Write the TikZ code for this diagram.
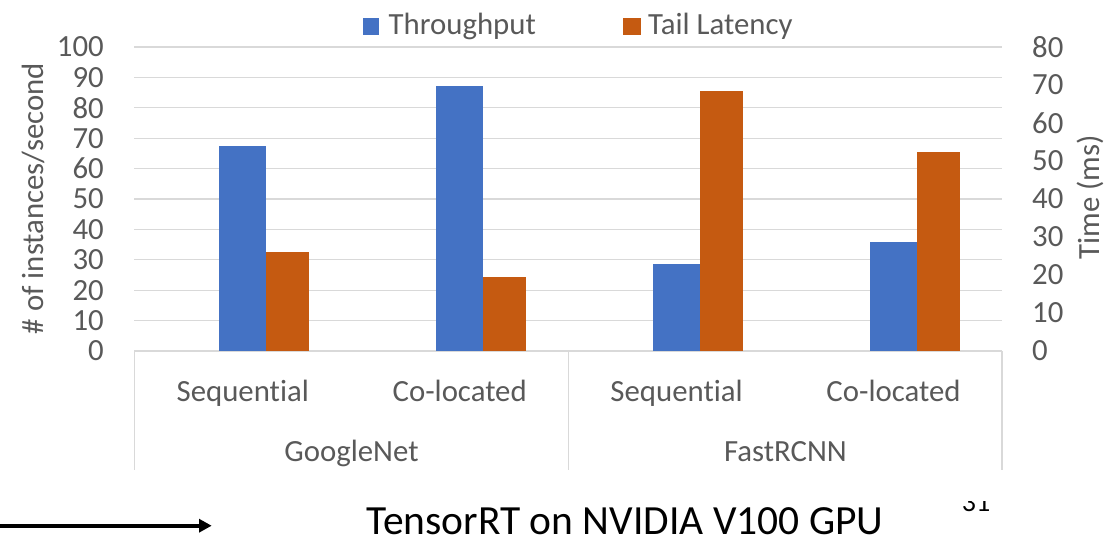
\documentclass[tikz,border=0pt]{standalone}
\usepackage{fontspec}
\setmainfont{Carlito}[Ligatures=NoCommon]
\usetikzlibrary{arrows.meta}
\definecolor{axisgray}{HTML}{595959}
\definecolor{gridgray}{HTML}{D9D9D9}
\definecolor{tpblue}{HTML}{4472C4}
\definecolor{latorange}{HTML}{C55A11}
\tikzset{
  charttext/.style={text=axisgray, inner sep=0pt, font=\fontsize{30.8}{36}\selectfont},
  gridline/.style={draw=gridgray, line width=1.3pt},
  tpbar/.style={fill=tpblue, draw=none},
  latbar/.style={fill=latorange, draw=none},
}
\begin{document}
\begin{tikzpicture}[x=1pt, y=-1pt]
\useasboundingbox (0,0) rectangle (1113,539);

% gridlines, primary axis labels (0..100) and secondary labels (0..80)
\foreach \i in {0,...,10} {
  \pgfmathsetmacro{\gy}{351-30.4*\i}
  \draw[gridline] (134.3,\gy) -- (1002,\gy);
  \pgfmathtruncatemacro{\lv}{10*\i}
  \node[charttext, anchor=east] (yl\i) at (104,\gy) {\lv};
}
\foreach \i in {0,...,8} {
  \pgfmathsetmacro{\gy}{351-38*\i}
  \pgfmathtruncatemacro{\rv}{10*\i}
  \node[charttext, anchor=west] (yr\i) at (1032,\gy) {\rv};
}

% category box below the plot
\draw[gridline] (134.3,351) -- (134.3,470);
\draw[gridline] (568.7,351) -- (568.7,470);
\draw[gridline] (1002,351) -- (1002,470);

% bars: centre of category, throughput (of 100), tail latency (ms, of 80)
\foreach \c/\tp/\lat in {242.8/67.5/26, 459.7/87.3/19.5, 676.6/28.5/68.5, 893.5/35.9/52.3} {
  \pgfmathsetmacro{\ty}{351-3.04*\tp}
  \pgfmathsetmacro{\ly}{351-3.8*\lat}
  \fill[tpblue] (\c-23.5,\ty) rectangle (\c+23.5,351);
  \fill[latorange] (\c+23.5,\ly) rectangle (\c+66,351);
}

% category labels
\node[charttext, anchor=base] (s1) at (242.8,401.5) {Sequential};
\node[charttext, anchor=base] (c1) at (459.7,401.5) {Co-located};
\node[charttext, anchor=base] (s2) at (676.6,401.5) {Sequential};
\node[charttext, anchor=base] (c2) at (893.5,401.5) {Co-located};
\node[charttext, anchor=base] (g1) at (351.5,461.5) {GoogleNet};
\node[charttext, anchor=base] (g2) at (785.4,461.5) {FastRCNN};

% axis titles
\node[charttext, anchor=base, rotate=90] (ytitle) at (43.3,198.5) {\# of instances/second};
\node[charttext, anchor=base, rotate=90] (rtitle) at (1099.5,197.5) {Time (ms)};

% legend
\fill[tpblue] (362.5,17.7) rectangle (379.3,34.7);
\node[charttext, anchor=base west] (legtp) at (388.5,34.5) {Throughput};
\fill[latorange] (622.9,17.7) rectangle (640.5,34.7);
\node[charttext, anchor=base west] (leglat) at (648,34.5) {Tail Latency};

% caption and arrow
\node[inner sep=0pt, anchor=base, font=\fontsize{41.5}{48}\selectfont] (caption) at (625,534.5) {TensorRT on NVIDIA V100 GPU};
\coordinate (arrowstart) at (0,525.7);
\coordinate (arrowend) at (211.7,525.7);
\draw[line width=4pt, -{Triangle[length=12.7pt,width=13pt]}] (arrowstart) -- (arrowend);

% slide number, partly hidden behind the chart area
\begin{scope}
  \clip (940,501.7) rectangle (1000,520);
  \node[inner sep=0pt, anchor=base, font=\fontsize{28}{32}\selectfont] (pagenum) at (976,511.7) {31};
\end{scope}
\end{tikzpicture}
\end{document}
